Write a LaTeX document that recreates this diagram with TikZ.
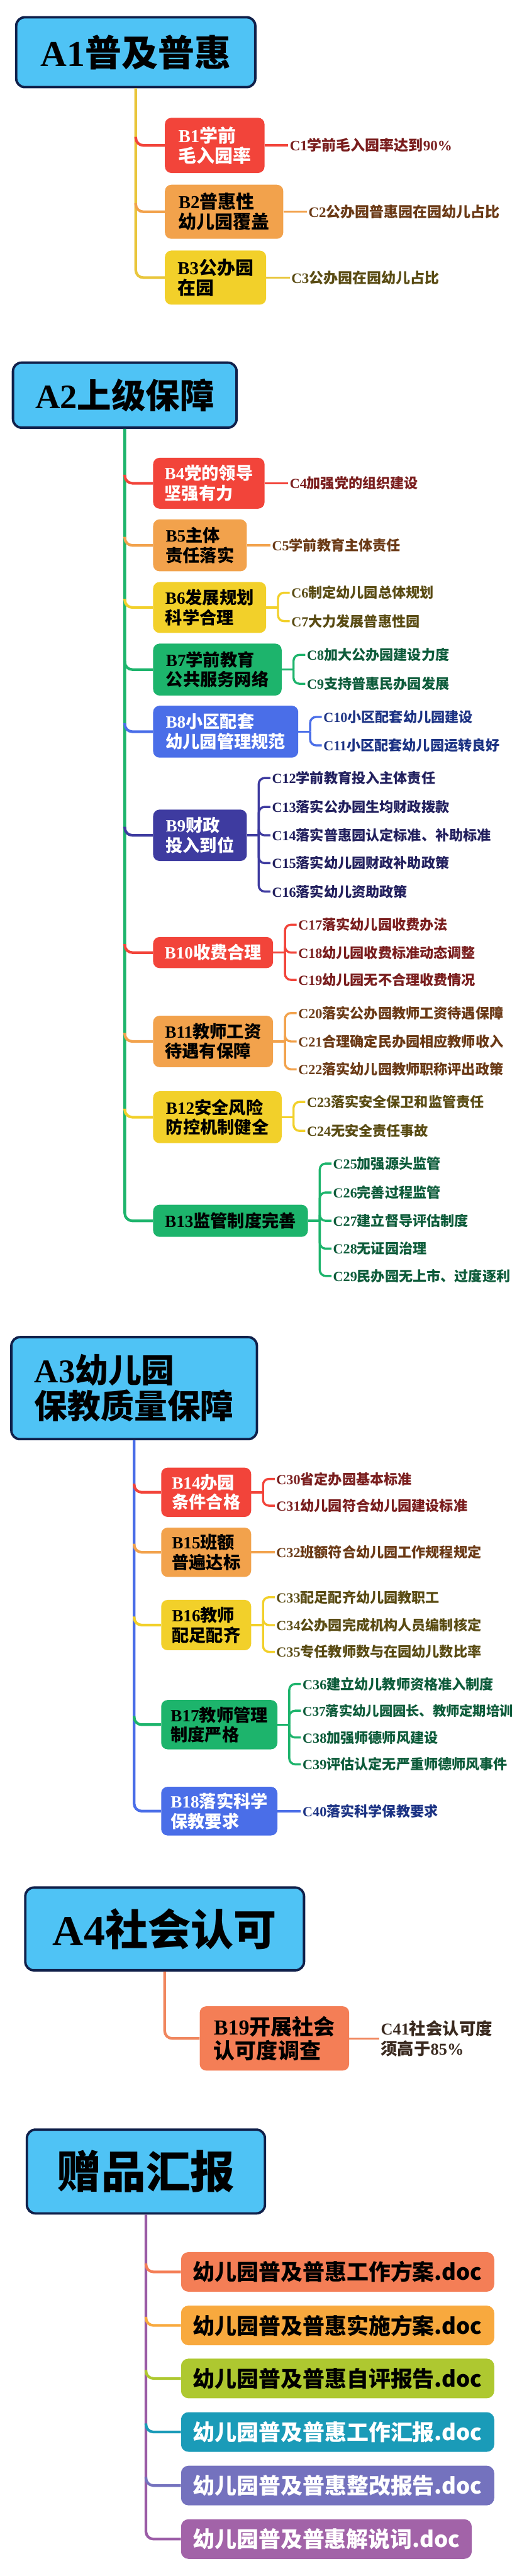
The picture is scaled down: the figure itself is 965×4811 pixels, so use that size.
\documentclass[tikz,border=0pt]{standalone}
\usepackage{fontspec}
\setmainfont{Noto Sans CJK SC}
\newfontfamily\lat{Liberation Serif}
\usetikzlibrary{calc}
\definecolor{skyA}{HTML}{4FC3F5}
\definecolor{navyA}{HTML}{10204A}
\definecolor{cRed}{HTML}{F2443A}
\definecolor{cOra}{HTML}{F2A24C}
\definecolor{cYel}{HTML}{F2D02A}
\definecolor{cGrn}{HTML}{1DB46C}
\definecolor{cBlu}{HTML}{4A6EE8}
\definecolor{cNav}{HTML}{3E3BA0}
\definecolor{cCor}{HTML}{F47E56}
\definecolor{trY}{HTML}{E9C63C}
\definecolor{trC}{HTML}{F0875F}
\definecolor{trP}{HTML}{9B5CA6}
\definecolor{gA}{HTML}{F47E56}
\definecolor{gB}{HTML}{F8A93E}
\definecolor{gC}{HTML}{AEC830}
\definecolor{gD}{HTML}{1A9BB8}
\definecolor{gE}{HTML}{7472BE}
\definecolor{gF}{HTML}{A263A8}
\definecolor{tRed}{HTML}{7A1E1E}
\definecolor{tOra}{HTML}{6B3A16}
\definecolor{tYel}{HTML}{5A4C14}
\definecolor{tGrn}{HTML}{0E5C3B}
\definecolor{tBlu}{HTML}{1C3384}
\definecolor{tNav}{HTML}{22205E}
\definecolor{tCor}{HTML}{3A2A20}
\newcommand\Lt[1]{{\lat #1}}
\newcommand\fs[2]{\fontsize{#1}{#2}\selectfont}
\newcommand\branch[3]{\draw[trunk,#3] ($(#1.south |- #2.west)+(0,-16)$) |- (#2.west);}
\begin{document}
\begin{tikzpicture}[x=1pt,y=-1pt,
 abox/.style={draw=navyA, line width=4.5pt, fill=skyA, rounded corners=16pt, inner sep=0pt, text=black, align=left},
 bbox/.style={rounded corners=12pt, inner sep=0pt, font=\bfseries\fs{32}{37}, align=left},
 bone/.style={bbox, font=\bfseries\fs{34}{38}},
 ctext/.style={anchor=west, inner xsep=3pt, inner ysep=0pt, font=\bfseries\fs{26}{30}},
 trunk/.style={line width=5pt, rounded corners=14pt},
 cline/.style={line width=4pt, rounded corners=11pt},
 gbox/.style={rounded corners=14pt, inner sep=0pt, minimum height=74pt, font=\bfseries\fs{41}{45}},
]
\fill[white] (0,0) rectangle (965,4811);
\useasboundingbox (0,0) rectangle (965,4811);

% ---------------- A1 ----------------
\node[abox, minimum width=446.5pt, minimum height=130.5pt, font=\bfseries\fs{68}{72}] (A1) at (253.5,97.5) {\Lt{A1}普及普惠};
\node[bone, fill=cRed, text=white, minimum width=186pt, minimum height=103pt] (B1) at (401,271.5) {\Lt{B1}学前\\毛入园率};
\node[bone, fill=cOra, text=black, minimum width=221pt, minimum height=101pt] (B2) at (418.5,395.5) {\Lt{B2}普惠性\\幼儿园覆盖};
\node[bone, fill=cYel, text=black, minimum width=189pt, minimum height=101pt] (B3) at (402.5,518.5) {\Lt{B3}公办园\\在园};
\node[ctext, text=tRed, font=\bfseries\fs{27}{30}] (C1) at (538,271.5) {\Lt{C1}学前毛入园率达到\Lt{90\%}};
\node[ctext, text=tOra, font=\bfseries\fs{27}{30}] (C2) at (573,395.5) {\Lt{C2}公办园普惠园在园幼儿占比};
\node[ctext, text=tYel, font=\bfseries\fs{27}{30}] (C3) at (541,518.5) {\Lt{C3}公办园在园幼儿占比};
\draw[trunk,trY] (A1.south) |- (B3.west);
\branch{A1}{B1}{cRed}
\branch{A1}{B2}{cOra}
\draw[cline,cRed] (B1.east) -- (C1.west);
\draw[cline,cOra] (B2.east) -- (C2.west);
\draw[cline,trY] (B3.east) -- (C3.west);

% ---------------- A2 ----------------
\node[abox, minimum width=417.5pt, minimum height=121.5pt, font=\bfseries\fs{64}{68}] (A2) at (233,738) {\Lt{A2}上级保障};
\node[bbox, fill=cRed, text=white, minimum width=208pt, minimum height=95pt] (B4) at (390,902.5) {\Lt{B4}党的领导\\坚强有力};
\node[bbox, fill=cOra, text=black, minimum width=175pt, minimum height=97pt] (B5) at (373.5,1018.5) {\Lt{B5}主体\\责任落实};
\node[bbox, fill=cYel, text=black, minimum width=211pt, minimum height=95pt] (B6) at (391.5,1134.5) {\Lt{B6}发展规划\\科学合理};
\node[bbox, fill=cGrn, text=black, minimum width=240pt, minimum height=97pt] (B7) at (406,1250.5) {\Lt{B7}学前教育\\公共服务网络};
\node[bbox, fill=cBlu, text=white, minimum width=271pt, minimum height=97pt] (B8) at (421.5,1366.5) {\Lt{B8}小区配套\\幼儿园管理规范};
\node[bbox, fill=cNav, text=white, minimum width=175pt, minimum height=96pt] (B9) at (373.5,1560) {\Lt{B9}财政\\投入到位};
\node[bbox, fill=cRed, text=white, minimum width=224pt, minimum height=58pt] (B10) at (398,1779) {\Lt{B10}收费合理};
\node[bbox, fill=cOra, text=black, minimum width=224pt, minimum height=96pt] (B11) at (398,1945) {\Lt{B11}教师工资\\待遇有保障};
\node[bbox, fill=cYel, text=black, minimum width=240pt, minimum height=97pt] (B12) at (406,2086.5) {\Lt{B12}安全风险\\防控机制健全};
\node[bbox, fill=cGrn, text=black, minimum width=289pt, minimum height=60pt] (B13) at (430.5,2280) {\Lt{B13}监管制度完善};

\node[ctext, text=tRed] (C4) at (538,902.5) {\Lt{C4}加强党的组织建设};
\node[ctext, text=tOra] (C5) at (505,1018.5) {\Lt{C5}学前教育主体责任};
\node[ctext, text=tYel] (C6) at (541,1107) {\Lt{C6}制定幼儿园总体规划};
\node[ctext, text=tYel] (C7) at (541,1160) {\Lt{C7}大力发展普惠性园};
\node[ctext, text=tGrn] (C8) at (570,1223) {\Lt{C8}加大公办园建设力度};
\node[ctext, text=tGrn] (C9) at (570,1277) {\Lt{C9}支持普惠民办园发展};
\node[ctext, text=tBlu] (C10) at (601,1339) {\Lt{C10}小区配套幼儿园建设};
\node[ctext, text=tBlu] (C11) at (601,1392) {\Lt{C11}小区配套幼儿园运转良好};
\node[ctext, text=tNav] (C12) at (505,1453) {\Lt{C12}学前教育投入主体责任};
\node[ctext, text=tNav] (C13) at (505,1507) {\Lt{C13}落实公办园生均财政拨款};
\node[ctext, text=tNav] (C14) at (505,1560) {\Lt{C14}落实普惠园认定标准、补助标准};
\node[ctext, text=tNav] (C15) at (505,1612) {\Lt{C15}落实幼儿园财政补助政策};
\node[ctext, text=tNav] (C16) at (505,1665) {\Lt{C16}落实幼儿资助政策};
\node[ctext, text=tRed] (C17) at (554,1727) {\Lt{C17}落实幼儿园收费办法};
\node[ctext, text=tRed] (C18) at (554,1779) {\Lt{C18}幼儿园收费标准动态调整};
\node[ctext, text=tRed] (C19) at (554,1830) {\Lt{C19}幼儿园无不合理收费情况};
\node[ctext, text=tOra] (C20) at (554,1892) {\Lt{C20}落实公办园教师工资待遇保障};
\node[ctext, text=tOra] (C21) at (554,1945) {\Lt{C21}合理确定民办园相应教师收入};
\node[ctext, text=tOra] (C22) at (554,1997) {\Lt{C22}落实幼儿园教师职称评出政策};
\node[ctext, text=tYel] (C23) at (570,2058) {\Lt{C23}落实安全保卫和监管责任};
\node[ctext, text=tYel] (C24) at (570,2112) {\Lt{C24}无安全责任事故};
\node[ctext, text=tGrn] (C25) at (619,2173) {\Lt{C25}加强源头监管};
\node[ctext, text=tGrn] (C26) at (619,2227) {\Lt{C26}完善过程监管};
\node[ctext, text=tGrn] (C27) at (619,2280) {\Lt{C27}建立督导评估制度};
\node[ctext, text=tGrn] (C28) at (619,2332) {\Lt{C28}无证园治理};
\node[ctext, text=tGrn] (C29) at (619,2383) {\Lt{C29}民办园无上市、过度逐利};

\draw[trunk,cGrn] (A2.south) |- (B13.west);
\branch{A2}{B4}{cRed}
\branch{A2}{B5}{cOra}
\branch{A2}{B6}{cYel}
\branch{A2}{B7}{cGrn}
\branch{A2}{B8}{cBlu}
\branch{A2}{B9}{cNav}
\branch{A2}{B10}{cRed}
\branch{A2}{B11}{cOra}
\branch{A2}{B12}{cYel}
\draw[cline,cRed] (B4.east) -- (C4.west);
\draw[cline,cOra] (B5.east) -- (C5.west);
\coordinate (J6) at ($(B6.east)+(22,0)$);
\coordinate (J7) at ($(B7.east)+(22,0)$);
\coordinate (J8) at ($(B8.east)+(22,0)$);
\coordinate (J9) at ($(B9.east)+(22,0)$);
\coordinate (J10) at ($(B10.east)+(22,0)$);
\coordinate (J11) at ($(B11.east)+(22,0)$);
\coordinate (J12) at ($(B12.east)+(22,0)$);
\coordinate (J13) at ($(B13.east)+(22,0)$);
\draw[cline,cYel] (B6.east) -- (J6);
\foreach \c in {C6,C7} \draw[cline,cYel] (J6) |- (\c.west);
\draw[cline,cGrn] (B7.east) -- (J7);
\foreach \c in {C8,C9} \draw[cline,cGrn] (J7) |- (\c.west);
\draw[cline,cBlu] (B8.east) -- (J8);
\foreach \c in {C10,C11} \draw[cline,cBlu] (J8) |- (\c.west);
\draw[cline,cNav] (B9.east) -- (J9);
\foreach \c in {C12,C13,C14,C15,C16} \draw[cline,cNav] (J9) |- (\c.west);
\draw[cline,cRed] (B10.east) -- (J10);
\foreach \c in {C17,C18,C19} \draw[cline,cRed] (J10) |- (\c.west);
\draw[cline,cOra] (B11.east) -- (J11);
\foreach \c in {C20,C21,C22} \draw[cline,cOra] (J11) |- (\c.west);
\draw[cline,cYel] (B12.east) -- (J12);
\foreach \c in {C23,C24} \draw[cline,cYel] (J12) |- (\c.west);
\draw[cline,cGrn] (B13.east) -- (J13);
\foreach \c in {C25,C26,C27,C28,C29} \draw[cline,cGrn] (J13) |- (\c.west);

% ---------------- A3 ----------------
\node[abox, minimum width=458.5pt, minimum height=190.5pt, font=\bfseries\fs{62}{67}] (A3) at (250.5,2592.5) {\Lt{A3}幼儿园\\保教质量保障};
\node[bbox, fill=cRed, text=white, minimum width=168pt, minimum height=92pt] (B14) at (385,2787) {\Lt{B14}办园\\条件合格};
\node[bbox, fill=cOra, text=black, minimum width=168pt, minimum height=92pt] (B15) at (385,2899) {\Lt{B15}班额\\普遍达标};
\node[bbox, fill=cYel, text=black, minimum width=168pt, minimum height=94pt] (B16) at (385,3035) {\Lt{B16}教师\\配足配齐};
\node[bbox, fill=cGrn, text=black, minimum width=217pt, minimum height=92pt] (B17) at (409.5,3221) {\Lt{B17}教师管理\\制度严格};
\node[bbox, fill=cBlu, text=white, minimum width=217pt, minimum height=91pt] (B18) at (409.5,3382.5) {\Lt{B18}落实科学\\保教要求};

\node[ctext, text=tRed] (C30) at (513,2762) {\Lt{C30}省定办园基本标准};
\node[ctext, text=tRed] (C31) at (513,2812) {\Lt{C31}幼儿园符合幼儿园建设标准};
\node[ctext, text=tOra] (C32) at (513,2899) {\Lt{C32}班额符合幼儿园工作规程规定};
\node[ctext, text=tYel] (C33) at (513,2983) {\Lt{C33}配足配齐幼儿园教职工};
\node[ctext, text=tYel] (C34) at (513,3035) {\Lt{C34}公办园完成机构人员编制核定};
\node[ctext, text=tYel] (C35) at (513,3085) {\Lt{C35}专任教师数与在园幼儿数比率};
\node[ctext, text=tGrn] (C36) at (562,3145) {\Lt{C36}建立幼儿教师资格准入制度};
\node[ctext, text=tGrn, font=\bfseries\fs{25}{30}] (C37) at (562,3195) {\Lt{C37}落实幼儿园园长、教师定期培训};
\node[ctext, text=tGrn] (C38) at (562,3245) {\Lt{C38}加强师德师风建设};
\node[ctext, text=tGrn] (C39) at (562,3295) {\Lt{C39}评估认定无严重师德师风事件};
\node[ctext, text=tBlu] (C40) at (562,3382.5) {\Lt{C40}落实科学保教要求};

\draw[trunk,cBlu] (A3.south) |- (B18.west);
\branch{A3}{B14}{cRed}
\branch{A3}{B15}{cOra}
\branch{A3}{B16}{cYel}
\branch{A3}{B17}{cGrn}
\coordinate (J14) at ($(B14.east)+(22,0)$);
\coordinate (J16) at ($(B16.east)+(22,0)$);
\coordinate (J17) at ($(B17.east)+(22,0)$);
\draw[cline,cRed] (B14.east) -- (J14);
\foreach \c in {C30,C31} \draw[cline,cRed] (J14) |- (\c.west);
\draw[cline,cOra] (B15.east) -- (C32.west);
\draw[cline,cYel] (B16.east) -- (J16);
\foreach \c in {C33,C34,C35} \draw[cline,cYel] (J16) |- (\c.west);
\draw[cline,cGrn] (B17.east) -- (J17);
\foreach \c in {C36,C37,C38,C39} \draw[cline,cGrn] (J17) |- (\c.west);
\draw[cline,cBlu] (B18.east) -- (C40.west);

% ---------------- A4 ----------------
\node[abox, minimum width=520.5pt, minimum height=154.5pt, font=\bfseries\fs{80}{84}] (A4) at (307.5,3602.5) {\Lt{A4}社会认可};
\node[bbox, fill=cCor, text=black, minimum width=279pt, minimum height=120pt, font=\bfseries\fs{40}{45}] (B19) at (512.5,3807) {\Lt{B19}开展社会\\认可度调查};
\node[ctext, text=tCor, align=left, font=\bfseries\fs{31}{37}] (C41) at (708,3807) {\Lt{C41}社会认可度\\须高于\Lt{85\%}};
\draw[trunk,trC] (A4.south) |- (B19.west);
\draw[cline,trC] (B19.east) -- (C41.west);

% ---------------- Gifts ----------------
\node[abox, minimum width=444.5pt, minimum height=156.5pt, font=\bfseries\fs{83}{88}] (G) at (272.5,4055.5) {赠品汇报};
\node[gbox, fill=gA, text=black, minimum width=585pt] (G1) at (630.5,4243) {幼儿园普及普惠工作方案.doc};
\node[gbox, fill=gB, text=black, minimum width=585pt] (G2) at (630.5,4343) {幼儿园普及普惠实施方案.doc};
\node[gbox, fill=gC, text=black, minimum width=585pt] (G3) at (630.5,4442) {幼儿园普及普惠自评报告.doc};
\node[gbox, fill=gD, text=white, minimum width=585pt] (G4) at (630.5,4542) {幼儿园普及普惠工作汇报.doc};
\node[gbox, fill=gE, text=white, minimum width=585pt] (G5) at (630.5,4642) {幼儿园普及普惠整改报告.doc};
\node[gbox, fill=gF, text=white, minimum width=543pt] (G6) at (609.5,4742) {幼儿园普及普惠解说词.doc};
\draw[trunk,trP] (G.south) |- (G6.west);
\branch{G}{G1}{gA}
\branch{G}{G2}{gB}
\branch{G}{G3}{gC}
\branch{G}{G4}{gD}
\branch{G}{G5}{gE}
\end{tikzpicture}
\end{document}
